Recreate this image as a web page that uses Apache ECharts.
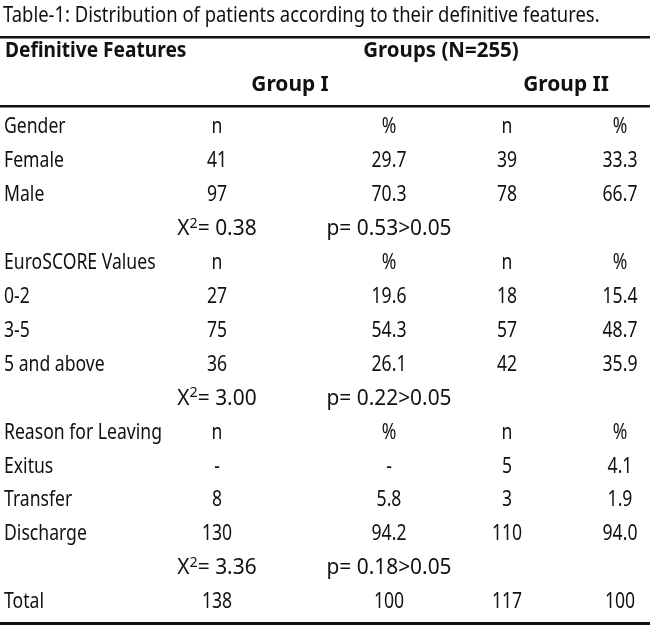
<!DOCTYPE html>
<html>
<head>
<meta charset="utf-8">
<script src="https://cdn.jsdelivr.net/npm/echarts@6/dist/echarts.min.js"></script>
<style>
  html, body { margin: 0; padding: 0; background: #fff; }
  #main { width: 650px; height: 635px; }
</style>
</head>
<body>
<div id="main"></div>
<script>
    // table data
    var rowLabels = ['Gender', 'Female', 'Male', '', 'EuroSCORE Values', '0-2', '3-5', '5 and above', '',
        'Reason for Leaving', 'Exitus', 'Transfer', 'Discharge', '', 'Total'];
    var group1N   = ['n', '41', '97', '', 'n', '27', '75', '36', '', 'n', '-', '8', '130', '', '138'];
    var group1Pct = ['%', '29.7', '70.3', '', '%', '19.6', '54.3', '26.1', '', '%', '-', '5.8', '94.2', '', '100'];
    var group2N   = ['n', '39', '78', '', 'n', '18', '57', '42', '', 'n', '5', '3', '110', '', '117'];
    var group2Pct = ['%', '33.3', '66.7', '', '%', '15.4', '48.7', '35.9', '', '%', '4.1', '1.9', '94.0', '', '100'];
    var chiRows   = [3, 8, 13];
    var chiValues = ['0.38', '3.00', '3.36'];
    var pValues   = ['p= 0.53>0.05', 'p= 0.22>0.05', 'p= 0.18>0.05'];

    var FONT = "'Noto Sans', sans-serif";
    var SX = 0.8;                         // horizontal squeeze to mimic a condensed face
    var SX_STAT = 0.95;                   // test statistic rows are set wider
    var colX = [4, 217, 389, 507, 620];   // column anchors in px (x axis runs 0..650)

    // collect cells: {col, row, text}
    var cells = [];
    [rowLabels, group1N, group1Pct, group2N, group2Pct].forEach(function (arr, col) {
        arr.forEach(function (t, row) {
            if (t !== '') cells.push({ col: col, row: row, text: t, sx: SX });
        });
    });
    chiRows.forEach(function (r, i) {
        cells.push({ col: 1, row: r, text: 'X{sup|2}= ' + chiValues[i], sx: SX_STAT });
        cells.push({ col: 2, row: r, text: pValues[i], sx: SX_STAT });
    });

    var rowIdx = rowLabels.map(function (_, i) { return i; });

    var chart = echarts.init(document.getElementById('main'));
    var option = {
        animation: false,
        backgroundColor: '#fff',
        grid: { left: 0, right: 0, top: 110, bottom: 16 },
        xAxis: { type: 'value', min: 0, max: 650, show: false },
        yAxis: { type: 'category', data: rowIdx, inverse: true, show: false },
        graphic: [
            { type: 'text', x: 3, y: 16, scaleX: 0.838,
              style: { text: 'Table-1: Distribution of patients according to their definitive features.',
                       font: '22px ' + FONT, fill: '#111', verticalAlign: 'middle' } },
            { type: 'rect', shape: { x: 0, y: 36, width: 650, height: 2.5 }, style: { fill: '#111' } },
            { type: 'text', x: 5, y: 51, scaleX: 0.87,
              style: { text: 'Definitive Features', font: 'bold 22px ' + FONT, fill: '#111',
                       verticalAlign: 'middle' } },
            { type: 'text', x: 441, y: 51, scaleX: 0.93,
              style: { text: 'Groups (N=255)', font: 'bold 22px ' + FONT, fill: '#111',
                       align: 'center', verticalAlign: 'middle' } },
            { type: 'text', x: 290, y: 85, scaleX: 0.95,
              style: { text: 'Group I', font: 'bold 22px ' + FONT, fill: '#111',
                       align: 'center', verticalAlign: 'middle' } },
            { type: 'text', x: 566, y: 85, scaleX: 0.95,
              style: { text: 'Group II', font: 'bold 22px ' + FONT, fill: '#111',
                       align: 'center', verticalAlign: 'middle' } },
            { type: 'rect', shape: { x: 0, y: 105, width: 650, height: 2.5 }, style: { fill: '#111' } },
            { type: 'rect', shape: { x: 0, y: 622, width: 650, height: 3 }, style: { fill: '#111' } }
        ],
        series: [{
            type: 'custom',
            silent: true,
            data: cells.map(function (c) { return [colX[c.col], c.row]; }),
            renderItem: function (params, api) {
                var c = cells[params.dataIndex];
                var p = api.coord([api.value(0), api.value(1)]);
                return {
                    type: 'text',
                    x: p[0],
                    y: p[1],
                    scaleX: c.sx,
                    style: {
                        text: c.text,
                        font: '22px ' + FONT,
                        fill: '#111',
                        align: c.col === 0 ? 'left' : 'center',
                        verticalAlign: 'middle',
                        rich: {
                            sup: { font: '15px ' + FONT, fill: '#111', padding: [0, 0, 11, 0] }
                        }
                    }
                };
            }
        }]
    };
    chart.setOption(option);
</script>
</body>
</html>
